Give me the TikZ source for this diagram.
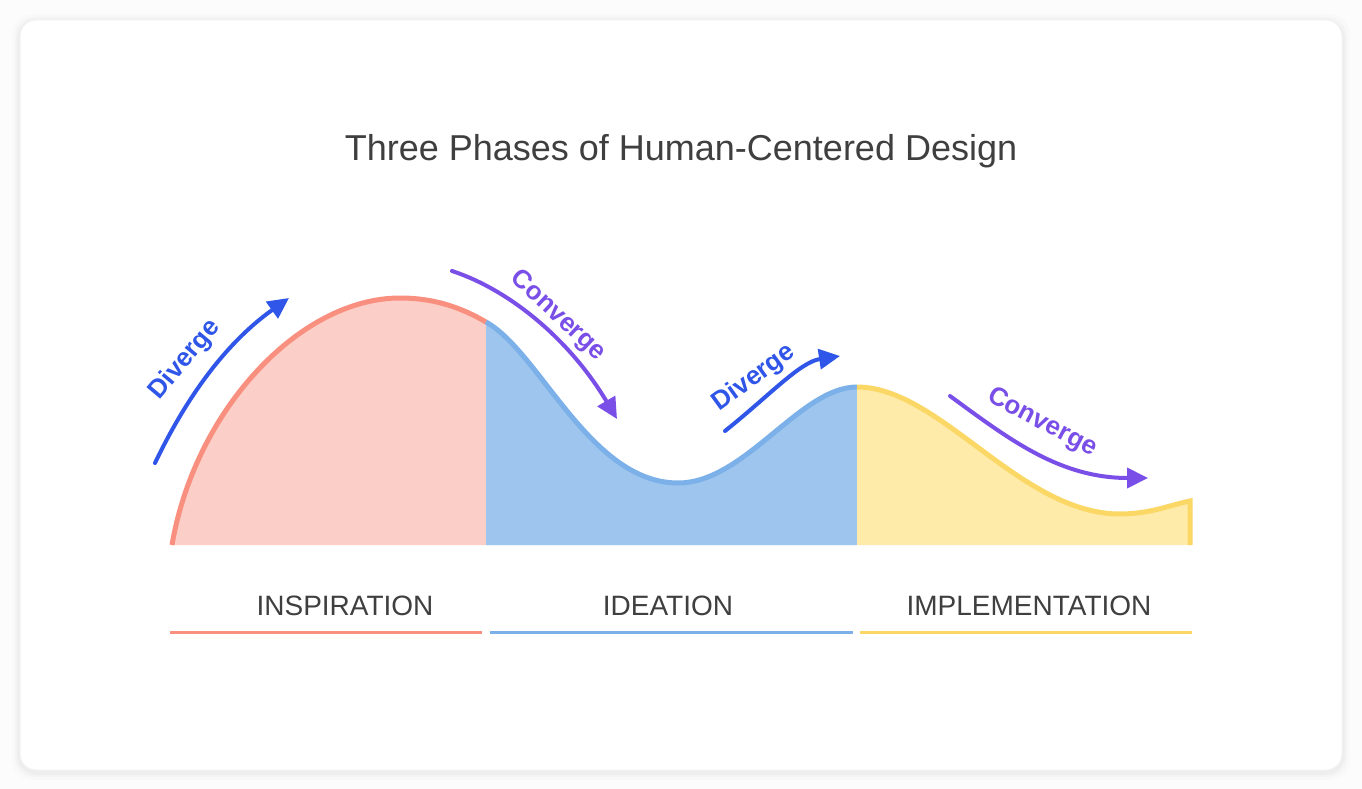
\documentclass[tikz,border=0pt]{standalone}
\usepackage{fontspec}
\setmainfont{Liberation Sans}
\usepackage{tikz}
\usetikzlibrary{arrows.meta}
\definecolor{pbg}{HTML}{FCFCFC}
\definecolor{pcard}{HTML}{FFFFFF}
\definecolor{pedge}{HTML}{F2F2F2}
\definecolor{ptext}{HTML}{3F3F3F}
\definecolor{insline}{HTML}{F9907F}
\definecolor{insfill}{HTML}{FBCEC7}
\definecolor{ideline}{HTML}{7BB0E8}
\definecolor{idefill}{HTML}{9DC5EE}
\definecolor{impline}{HTML}{FBD866}
\definecolor{impfill}{HTML}{FEEBAA}
\definecolor{dblue}{HTML}{2F56E8}
\definecolor{cpurple}{HTML}{7A4FE8}
\tikzset{
  x=1pt, y=-1pt,
  crv/.style  = {line width=5pt, line cap=butt},
  bar/.style  = {line width=3pt},
  arr/.style  = {line width=4pt, line cap=round,
                 -{Triangle[length=21pt,width=20pt]}},
  wdv/.style  = {font=\fontsize{26}{30}\selectfont\bfseries, text=dblue, inner sep=0pt},
  wcv/.style  = {font=\fontsize{26}{30}\selectfont\bfseries, text=cpurple, inner sep=0pt},
  phase/.style= {font=\fontsize{28}{32}\selectfont, text=ptext, inner sep=0pt},
}

\begin{document}
\begin{tikzpicture}
\useasboundingbox (0,0) rectangle (1362,789);
\fill[pbg] (0,0) rectangle (1362,789);

% ---- card with soft shadow
\foreach \s/\o in {8/0.012,5/0.018,3/0.025}
  \fill[black, opacity=\o, rounded corners=20pt] (20-\s,20-\s+2) rectangle (1342+\s,770+\s+2);
\filldraw[fill=pcard, draw=pedge, line width=1pt, rounded corners=16pt] (20,20) rectangle (1342,770);

% ---- title
\node[font=\fontsize{36}{40}\selectfont, text=ptext] (title) at (681,151) {Three Phases of Human-Centered Design};

% ---- curve points
\coordinate (c0) at (172,545);
\coordinate (c1) at (486,322);
\coordinate (c2) at (857,387);
\coordinate (c3) at (1190,501);

% ---- inspiration
\fill[insfill] (c0) .. controls (195,410) and (300,298) .. (400,298)
  .. controls (435,298) and (462,308) .. (c1) -- (486,545) -- cycle;
\draw[crv, insline] (c0) .. controls (195,410) and (300,298) .. (400,298)
  .. controls (435,298) and (462,308) .. (c1);

% ---- ideation
\fill[idefill] (c1) .. controls (540,352) and (590,483) .. (678,483)
  .. controls (745,483) and (800,387) .. (c2) -- (857,545) -- (486,545) -- cycle;
\draw[crv, ideline] (c1) .. controls (540,352) and (590,483) .. (678,483)
  .. controls (745,483) and (800,387) .. (c2);

% ---- implementation
\fill[impfill] (c2) .. controls (940,387) and (1020,514) .. (1120,514)
  .. controls (1150,514) and (1170,505) .. (c3) -- (1190,545) -- (857,545) -- cycle;
\draw[crv, impline] (c2) .. controls (940,387) and (1020,514) .. (1120,514)
  .. controls (1150,514) and (1170,505) .. (c3) -- (1190,545);

% ---- diverge / converge arrows
\coordinate (d1a) at (155,463);  \coordinate (d1b) at (289,298);
\coordinate (v1a) at (452,271);  \coordinate (v1b) at (617,419);
\coordinate (d2a) at (725,431);  \coordinate (d2b) at (840,356);
\coordinate (v2a) at (950,396);  \coordinate (v2b) at (1148,478);

\draw[arr, dblue]   (d1a) .. controls (190,390) and (230,340) .. (d1b);
\draw[arr, cpurple] (v1a) .. controls (510,290) and (570,340) .. (v1b);
\draw[arr, dblue]   (d2a) .. controls (770,395) and (800,362) .. (d2b);
\draw[arr, cpurple] (v2a) .. controls (1010,440) and (1060,478) .. (v2b);

\node[wdv, rotate=50]  (dv1) at (185,360)  {Diverge};
\node[wcv, rotate=-43] (cv1) at (558,316)  {Converge};
\node[wdv, rotate=36]  (dv2) at (754,378)  {Diverge};
\node[wcv, rotate=-28] (cv2) at (1042,423) {Converge};

% ---- phase labels and bars
\node[phase] (ins) at (345,606)  {INSPIRATION};
\node[phase] (ide) at (668,606)  {IDEATION};
\node[phase] (imp) at (1029,606) {IMPLEMENTATION};

\draw[bar, insline] (170,632) -- (482,632);
\draw[bar, ideline] (490,632) -- (853,632);
\draw[bar, impline] (860,632) -- (1192,632);

\end{tikzpicture}
\end{document}
